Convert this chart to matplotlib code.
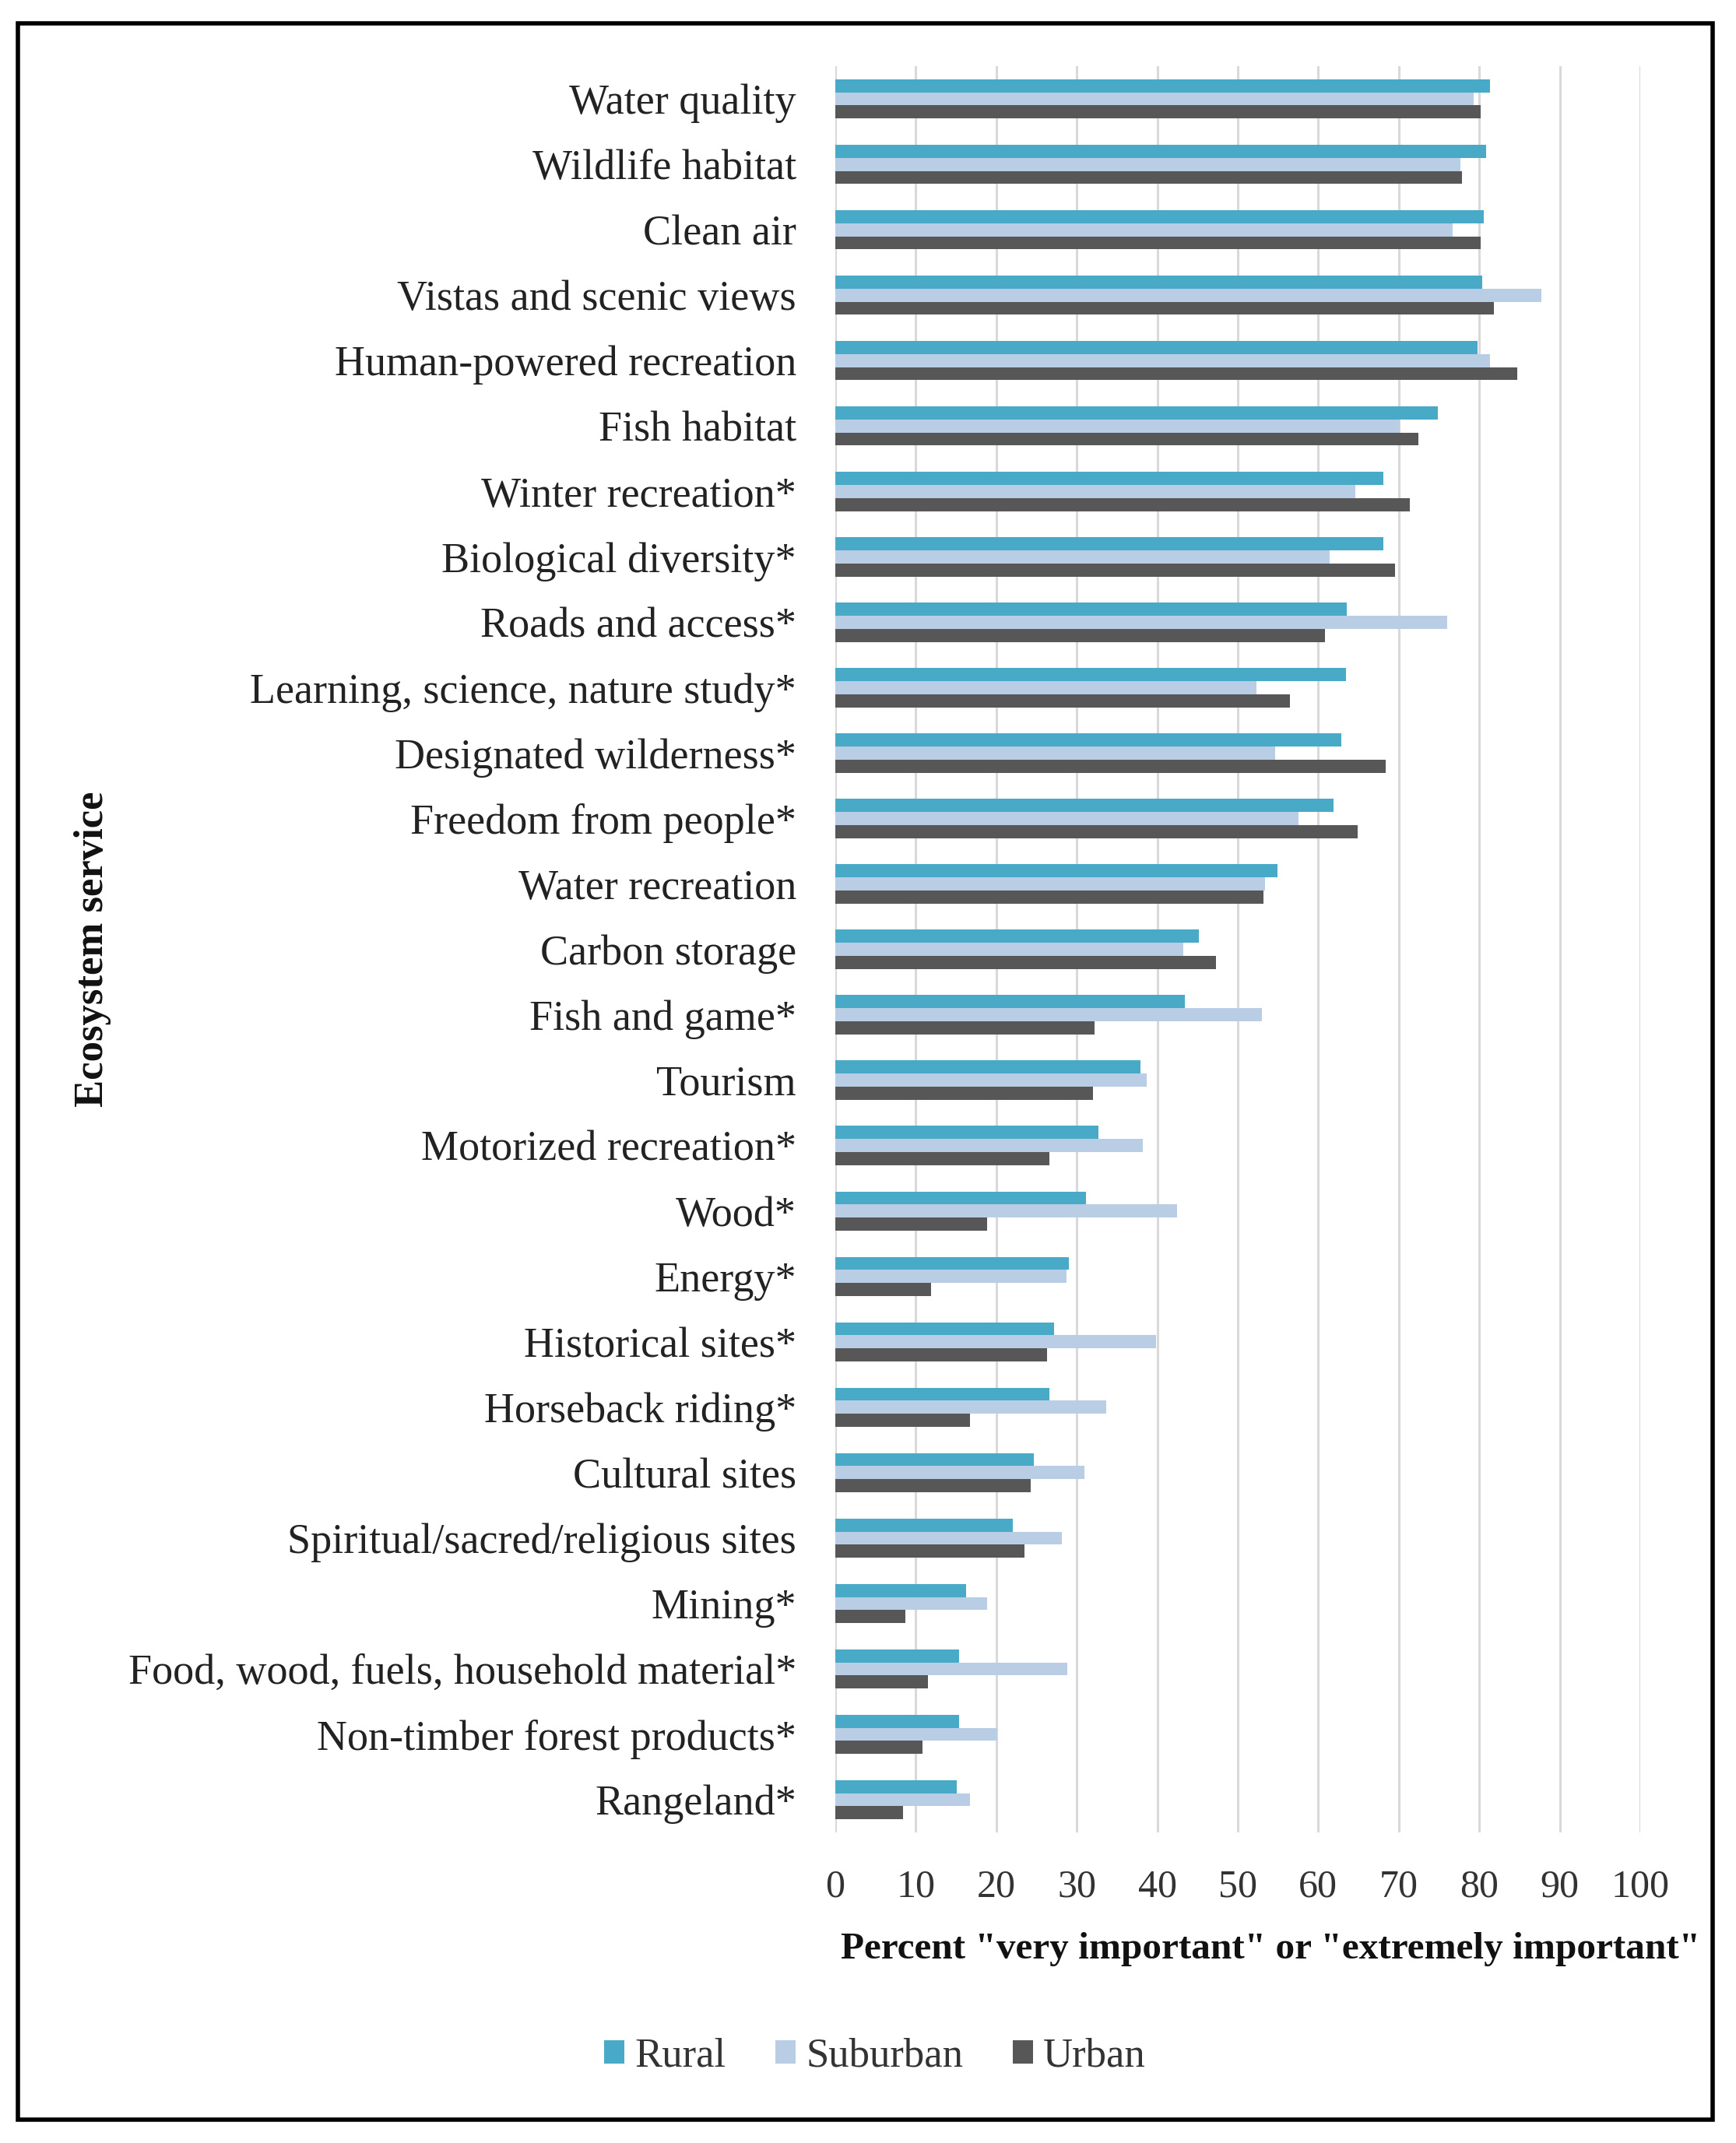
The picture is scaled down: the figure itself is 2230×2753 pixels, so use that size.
import matplotlib
matplotlib.use("Agg")
import matplotlib.pyplot as plt
import numpy as np
from matplotlib.patches import Rectangle

categories = ["Water quality", "Wildlife habitat", "Clean air", "Vistas and scenic views",
              "Human-powered recreation", "Fish habitat", "Winter recreation*",
              "Biological diversity*", "Roads and access*", "Learning, science, nature study*",
              "Designated wilderness*", "Freedom from people*", "Water recreation",
              "Carbon storage", "Fish and game*", "Tourism", "Motorized recreation*",
              "Wood*", "Energy*", "Historical sites*", "Horseback riding*", "Cultural sites",
              "Spiritual/sacred/religious sites", "Mining*",
              "Food, wood, fuels, household material*", "Non-timber forest products*",
              "Rangeland*"]
rural = [81.3, 80.9, 80.6, 80.4, 79.8, 74.9, 68.1, 68.1, 63.5, 63.4, 62.9, 61.9, 54.9,
         45.2, 43.4, 37.9, 32.7, 31.1, 29.0, 27.2, 26.6, 24.7, 22.0, 16.2, 15.4, 15.4, 15.1]
suburban = [79.3, 77.7, 76.7, 87.7, 81.3, 70.1, 64.6, 61.4, 76.0, 52.3, 54.6, 57.5, 53.4,
            43.2, 53.0, 38.7, 38.2, 42.5, 28.7, 39.8, 33.7, 30.9, 28.1, 18.9, 28.8, 20.1, 16.7]
urban = [80.2, 77.9, 80.2, 81.8, 84.7, 72.4, 71.4, 69.5, 60.8, 56.5, 68.4, 64.9, 53.2,
         47.3, 32.2, 32.0, 26.6, 18.9, 11.9, 26.3, 16.7, 24.3, 23.5, 8.7, 11.5, 10.8, 8.4]
series_names = ["Rural", "Suburban", "Urban"]
x_ticks = [0, 10, 20, 30, 40, 50, 60, 70, 80, 90, 100]

colors = ["#48AAC6", "#B9CDE5", "#575757"]
serif = ["Liberation Serif", "DejaVu Serif"]
plt.rcParams["font.family"] = serif

fig = plt.figure(figsize=(22.30, 27.53), dpi=100)
ax = fig.add_axes([0.4812, 0.1449, 0.9448 - 0.4812, 0.9691 - 0.1449])

n = len(categories)
y = np.arange(n)
h = 0.2
for i, (vals, c, name) in enumerate(zip([rural, suburban, urban], colors, series_names)):
    ax.barh(y + (i - 1) * h, vals, height=h, color=c, label=name, zorder=3)

ax.set_ylim(n - 0.5, -0.5)
ax.set_xlim(0, 100)
ax.set_yticks(y)
ax.set_yticklabels(categories, fontsize=39, color="#222222")
ax.set_xticks(x_ticks)
ax.set_xticklabels([str(t) for t in x_ticks], fontsize=36, color="#333333")
ax.tick_params(axis="y", length=0, pad=36)
ax.tick_params(axis="x", length=0, pad=34)
for s in ax.spines.values():
    s.set_visible(False)
ax.xaxis.grid(True, color="#D9D9D9", linewidth=2.2, zorder=0)
ax.set_axisbelow(True)

fig.text(0.4843, 0.0905, 'Percent "very important" or "extremely important"',
         fontsize=35.5, fontweight="bold", ha="left", va="center", color="#111111")
fig.text(0.0535, 0.557, "Ecosystem service", fontsize=38, fontweight="bold",
         rotation=90, ha="center", va="center", color="#111111")

leg = fig.legend(loc="center", bbox_to_anchor=(0.504, 0.0405), ncol=3, frameon=False,
                 fontsize=38, handlelength=0.5, handleheight=0.5, handletextpad=0.25,
                 columnspacing=1.2)
for t in leg.get_texts():
    t.set_color("#333333")

fig.patches.append(Rectangle((0.0103, 0.0109), 0.9865 - 0.0103, 0.989 - 0.0109,
                             transform=fig.transFigure, fill=False, edgecolor="black",
                             linewidth=4, zorder=10))

fig.savefig("out.png", dpi=100, facecolor="white")
